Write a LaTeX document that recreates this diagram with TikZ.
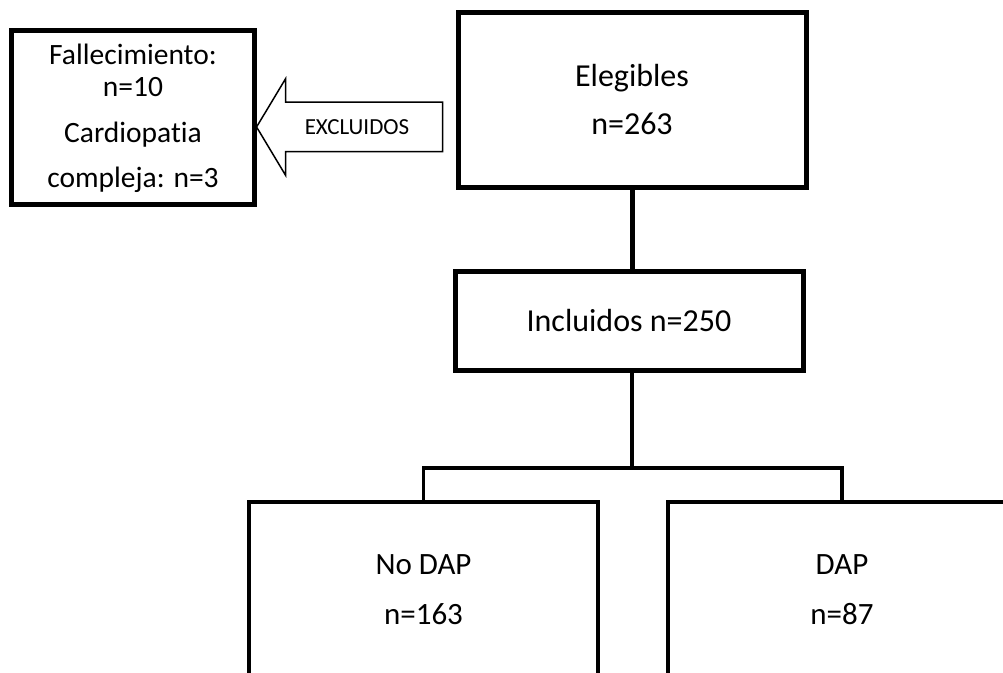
\documentclass[tikz,border=0pt]{standalone}
\usepackage{fontspec}
\setmainfont{Carlito}[Ligatures=NoCommon]
\usetikzlibrary{positioning,shapes.arrows}
\tikzset{
    flowbox/.style={draw, line width=5pt, align=center, font=\fontsize{32}{48}\selectfont},
    lowbox/.style={draw, line width=4pt, align=center, font=\fontsize{31}{50}\selectfont,
        minimum width=349pt, minimum height=175pt},
    exclbox/.style={draw, line width=5pt, align=center, font=\fontsize{29.5}{32}\selectfont,
        minimum width=243pt, minimum height=174pt},
    exclarrow/.style={draw, line width=1.5pt, single arrow, shape border rotate=180,
        font=\fontsize{23}{23}\selectfont, text height=15pt, text depth=0pt,
        inner ysep=16.5pt, minimum height=186pt, single arrow head extend=23.5pt,
        single arrow tip angle=118},
    mainline/.style={line width=5pt},
    branchline/.style={line width=3.5pt}
}
\begin{document}
\begin{tikzpicture}[x=1pt, y=1pt]
\fill[white] (0,0) rectangle (1003,672);
\useasboundingbox (0,0) rectangle (1003,672);
% top row
\node[exclbox] (fall) at (133,554) {Fallecimiento:\\n=10\\[14pt]Cardiopatia\\[13pt]compleja: n=3};
\node[flowbox, minimum width=348pt, minimum height=175pt] (eleg) at (632,572) {Elegibles\\n=263};
\node[exclarrow] (excl) at (357,545) {EXCLUIDOS};
% middle
\node[flowbox, minimum width=348pt, minimum height=99pt] (incl) at (629,351) {Incluidos n=250};
\coordinate (split) at (632,204);
% bottom row
\node[lowbox] (nodap) at (423.5,82.5) {No DAP\\n=163};
\node[lowbox] (dap) at (842,82.5) {DAP\\n=87};
\draw[mainline] (eleg.south) -- (eleg.south |- incl.north);
\draw[line width=4.5pt] (incl.south -| split) -- (split);
\draw[branchline] (nodap.north) |- (split) -| (dap.north);
\end{tikzpicture}
\end{document}
